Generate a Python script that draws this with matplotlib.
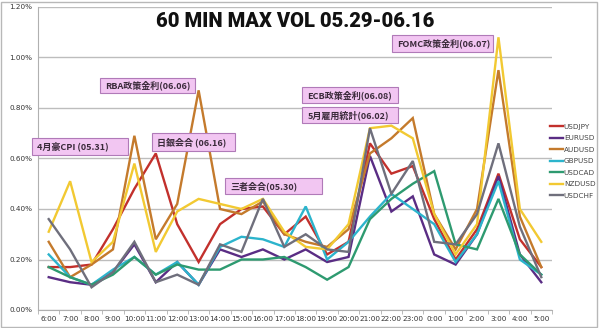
import matplotlib
matplotlib.use("Agg")
import matplotlib.pyplot as plt
from matplotlib.patches import Rectangle
from matplotlib.ticker import FuncFormatter, MultipleLocator

hours = ["6:00", "7:00", "8:00", "9:00", "10:00", "11:00", "12:00", "13:00",
         "14:00", "15:00", "16:00", "17:00", "18:00", "19:00", "20:00", "21:00",
         "22:00", "23:00", "0:00", "1:00", "2:00", "3:00", "4:00", "5:00"]

# hourly max volatility, in percent
usdjpy = [0.17, 0.17, 0.18, 0.32, 0.48, 0.62, 0.34, 0.19, 0.34, 0.40, 0.41, 0.30,
          0.37, 0.22, 0.27, 0.66, 0.54, 0.57, 0.36, 0.20, 0.32, 0.54, 0.28, 0.17]
eurusd = [0.13, 0.11, 0.10, 0.15, 0.26, 0.11, 0.19, 0.10, 0.24, 0.21, 0.24, 0.20,
          0.24, 0.19, 0.21, 0.61, 0.39, 0.45, 0.22, 0.18, 0.30, 0.53, 0.22, 0.11]
audusd = [0.27, 0.13, 0.18, 0.24, 0.69, 0.28, 0.42, 0.87, 0.40, 0.38, 0.43, 0.30,
          0.27, 0.25, 0.32, 0.62, 0.68, 0.76, 0.38, 0.24, 0.40, 0.95, 0.37, 0.17]
gbpusd = [0.22, 0.13, 0.10, 0.16, 0.21, 0.14, 0.19, 0.10, 0.25, 0.29, 0.28, 0.25,
          0.41, 0.20, 0.27, 0.37, 0.46, 0.40, 0.34, 0.19, 0.30, 0.51, 0.20, 0.14]
usdcad = [0.17, 0.13, 0.10, 0.14, 0.21, 0.14, 0.18, 0.16, 0.16, 0.20, 0.20, 0.21,
          0.17, 0.12, 0.17, 0.36, 0.44, 0.50, 0.55, 0.26, 0.24, 0.44, 0.22, 0.14]
nzdusd = [0.31, 0.51, 0.19, 0.27, 0.58, 0.23, 0.39, 0.44, 0.42, 0.40, 0.44, 0.31,
          0.25, 0.24, 0.34, 0.72, 0.73, 0.68, 0.38, 0.22, 0.34, 1.08, 0.40, 0.27]
usdchf = [0.36, 0.24, 0.09, 0.15, 0.27, 0.11, 0.14, 0.10, 0.26, 0.23, 0.44, 0.25,
          0.30, 0.24, 0.23, 0.72, 0.46, 0.59, 0.27, 0.26, 0.38, 0.66, 0.33, 0.13]

series_names = ["USDJPY", "EURUSD", "AUDUSD", "GBPUSD", "USDCAD", "NZDUSD", "USDCHF"]
series_values = [usdjpy, eurusd, audusd, gbpusd, usdcad, nzdusd, usdchf]
series_colors = ["#c2302c", "#5a2d84", "#c47a2c", "#2cb4cc", "#2e9a70", "#f2c932", "#6f6f7c"]

# event callouts and their boxes (left, right in hour index; bottom, top in percent)
events = ["4月豪CPI (05.31)", "RBA政策金利(06.06)", "日銀会合 (06.16)", "三者会合(05.30)",
          "ECB政策金利(06.08)", "5月雇用統計(06.02)", "FOMC政策金利(06.07)"]
box_left = [-0.78, 2.39, 4.82, 8.23, 11.83, 11.83, 16.03]
box_right = [3.70, 6.83, 8.70, 12.76, 16.31, 16.31, 20.75]
box_bottom = [0.614, 0.859, 0.630, 0.459, 0.820, 0.741, 1.022]
box_top = [0.681, 0.919, 0.701, 0.523, 0.883, 0.804, 1.089]

cjk = ["Noto Sans CJK JP", "DejaVu Sans"]

fig = plt.figure(figsize=(6.0, 3.28), dpi=100)
fig.patch.set_facecolor("white")
fig.patches.append(Rectangle((0.002, 0.003), 0.993, 0.992, transform=fig.transFigure,
                             fill=False, edgecolor="#b8b8b8", linewidth=1.0))

ax = fig.add_axes([38 / 600, 1 - 310 / 328, 514 / 600, 303 / 328])
x = list(range(len(hours)))
for name, vals, col in zip(series_names, series_values, series_colors):
    ax.plot(x, vals, color=col, linewidth=1.7, label=name, solid_joinstyle="miter")

ax.set_xlim(-0.5, len(hours) - 0.5)
ax.set_ylim(0, 1.2)
ax.yaxis.set_major_locator(MultipleLocator(0.2))
ax.yaxis.set_major_formatter(FuncFormatter(lambda v, p: f"{v:.2f}%"))
ax.set_xticks(x)
ax.set_xticklabels(hours)
ax.set_xticks([i + 0.5 for i in range(-1, len(hours))], minor=True)
ax.tick_params(axis="x", which="major", length=0, labelsize=5.2, colors="#333333", pad=4)
ax.tick_params(axis="x", which="minor", length=3, color="#b0b0b0", direction="out")
ax.tick_params(axis="y", length=0, labelsize=5.2, colors="#333333", pad=4)
ax.grid(axis="y", color="#bdbdbd", linewidth=1.0)
ax.set_axisbelow(True)
for s in ["top", "right"]:
    ax.spines[s].set_visible(False)
ax.spines["left"].set_color("#b0b0b0")
ax.spines["bottom"].set_color("#b0b0b0")

ax.text(11.5, 1.142, "60 MIN MAX VOL 05.29-06.16", ha="center", va="center",
        fontsize=14.5, fontweight="black", family="Roboto", color="#111111")

for label, l, r, b, t in zip(events, box_left, box_right, box_bottom, box_top):
    ax.add_patch(Rectangle((l, b), r - l, t - b, facecolor="#f2c6f2", edgecolor="#b07ab8",
                           linewidth=0.8, clip_on=False, zorder=5))
    ax.text(l + 0.25, (b + t) / 2, label, ha="left", va="center", fontsize=6.5,
            fontweight="bold", family=cjk, color="#3a2a3a", zorder=6)

leg = ax.legend(loc="upper left", bbox_to_anchor=(0.997, 0.615), frameon=False,
                fontsize=5.2, handlelength=1.7, handletextpad=0.15,
                labelspacing=0.75, borderaxespad=0.0, borderpad=0.0)
for t in leg.get_texts():
    t.set_color("#444444")

fig.savefig("out.png", dpi=100)
